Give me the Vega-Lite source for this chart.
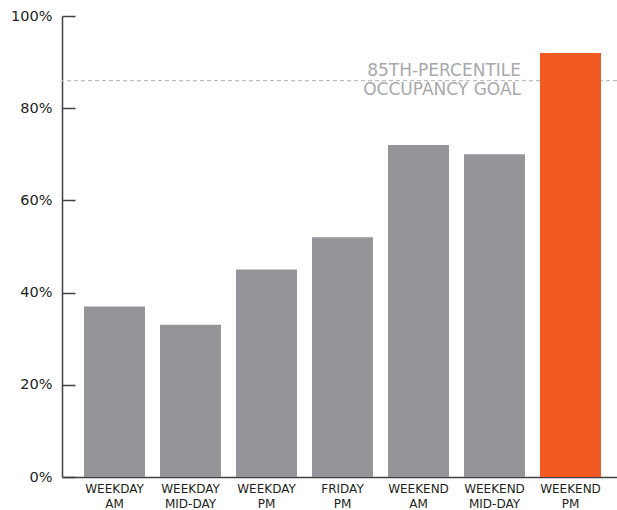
{
  "$schema": "https://vega.github.io/schema/vega-lite/v6.json",
  "width": 555,
  "height": 461,
  "autosize": "none",
  "padding": {"left": 62, "top": 16, "right": 0, "bottom": 33},
  "config": {
    "view": {"stroke": null},
    "font": "DejaVu Sans"
  },
  "datasets": {
    "occupancy": [
      {"period": "WEEKDAY AM", "pct": 37, "peak": "no"},
      {"period": "WEEKDAY MID-DAY", "pct": 33, "peak": "no"},
      {"period": "WEEKDAY PM", "pct": 45, "peak": "no"},
      {"period": "FRIDAY PM", "pct": 52, "peak": "no"},
      {"period": "WEEKEND AM", "pct": 72, "peak": "no"},
      {"period": "WEEKEND MID-DAY", "pct": 70, "peak": "no"},
      {"period": "WEEKEND PM", "pct": 92, "peak": "yes"}
    ],
    "goal": [
      {"period": "WEEKEND MID-DAY", "pct": 86, "note": ["85TH-PERCENTILE", "OCCUPANCY GOAL"]}
    ]
  },
  "layer": [
    {
      "data": {"name": "goal"},
      "mark": {"type": "rule", "color": "#bcbec0", "strokeWidth": 1.2, "strokeDash": [4, 3]},
      "encoding": {
        "y": {"field": "pct", "type": "quantitative"}
      }
    },
    {
      "data": {"name": "occupancy"},
      "mark": {"type": "bar"},
      "encoding": {
        "x": {
          "field": "period",
          "type": "nominal",
          "sort": null,
          "scale": {
            "domain": ["WEEKDAY AM", "WEEKDAY MID-DAY", "WEEKDAY PM", "FRIDAY PM", "WEEKEND AM", "WEEKEND MID-DAY", "WEEKEND PM"],
            "paddingInner": 0.1974,
            "paddingOuter": 0.25,
            "align": 0.579
          },
          "axis": {
            "title": null,
            "labelAngle": 0,
            "labelExpr": "split(datum.label, ' ')",
            "labelFontSize": 12,
            "labelColor": "#231f20",
            "labelPadding": 6,
            "labelLineHeight": 15,
            "labelBaseline": "top",
            "ticks": false,
            "domainColor": "#3f4042",
            "domainWidth": 1.5
          }
        },
        "y": {
          "field": "pct",
          "type": "quantitative",
          "scale": {"domain": [0, 100], "nice": false},
          "axis": {
            "title": null,
            "values": [0, 20, 40, 60, 80, 100],
            "labelExpr": "datum.value + '%'",
            "labelFontSize": 14.5,
            "labelColor": "#231f20",
            "labelPadding": 23,
            "tickSize": -13,
            "tickColor": "#3f4042",
            "tickWidth": 1.5,
            "domainColor": "#3f4042",
            "domainWidth": 1.5,
            "grid": false
          }
        },
        "color": {
          "field": "peak",
          "type": "nominal",
          "scale": {"domain": ["no", "yes"], "range": ["#939598", "#f15a22"]},
          "legend": null
        }
      }
    },
    {
      "data": {"name": "goal"},
      "mark": {
        "type": "text",
        "align": "right",
        "baseline": "alphabetic",
        "dx": -4,
        "dy": -5,
        "fontSize": 17,
        "lineHeight": 19,
        "color": "#a7a9ac"
      },
      "encoding": {
        "x": {"field": "period", "type": "nominal", "bandPosition": 1},
        "y": {"field": "pct", "type": "quantitative"},
        "text": {"field": "note"}
      }
    }
  ]
}
